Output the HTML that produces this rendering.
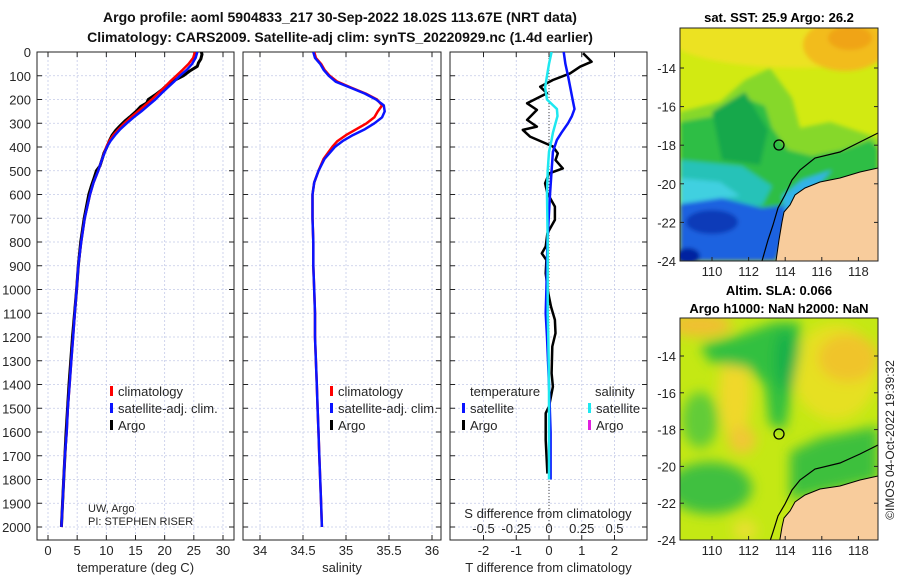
<!DOCTYPE html>
<html><head><meta charset="utf-8"><style>
html,body{margin:0;padding:0;background:#fff;overflow:hidden}
svg{display:block;font-family:"Liberation Sans","DejaVu Sans",sans-serif}
</style></head><body>
<svg id="fig" width="900" height="580" viewBox="0 0 900 580" xmlns="http://www.w3.org/2000/svg">
<defs>
<clipPath id="c1"><rect x="680" y="28" width="198" height="233"/></clipPath>
<clipPath id="c2"><rect x="680" y="318" width="198" height="222"/></clipPath>
<clipPath id="cp1"><rect x="37" y="52" width="197" height="488"/></clipPath>
<clipPath id="cp2"><rect x="243" y="52" width="198" height="488"/></clipPath>
<clipPath id="cp3"><rect x="450" y="52" width="197" height="488"/></clipPath>
<filter id="b1"><feGaussianBlur stdDeviation="2"/></filter>
<filter id="b2"><feGaussianBlur stdDeviation="6"/></filter>
</defs>
<g id="titles" font-weight="bold" font-size="14" fill="#111" text-anchor="middle">
<text x="340" y="22">Argo profile: aoml 5904833_217 30-Sep-2022 18.02S 113.67E (NRT data)</text>
<text x="340" y="42">Climatology: CARS2009. Satellite-adj clim: synTS_20220929.nc (1.4d earlier)</text>
</g>

<!-- SST map -->
<g clip-path="url(#c1)">
<rect x="680" y="28" width="198" height="233" fill="#d2ea12"/>
<g filter="url(#b1)">
<ellipse cx="800" cy="38" rx="130" ry="30" fill="#ece220"/>
<ellipse cx="845" cy="45" rx="42" ry="26" fill="#f2bc1c"/>
<ellipse cx="850" cy="38" rx="22" ry="12" fill="#f0a414"/>
<polygon points="680,112 720,102 745,80 770,68 792,98 800,128 830,122 860,132 878,138 878,205 680,205" fill="#86d82c"/>
<polygon points="680,122 715,116 740,96 765,106 772,128 788,150 812,156 842,150 870,140 878,148 878,205 800,232 680,232" fill="#2ebe44"/>
<polygon points="712,112 745,92 768,130 760,165 722,160" fill="#18a84c"/>
<polygon points="680,160 742,166 772,186 762,206 680,206" fill="#26c2b8"/>
<polygon points="680,178 720,182 740,196 680,204" fill="#40d0e0"/>
<polygon points="680,204 722,198 762,208 792,204 786,232 776,261 680,261" fill="#1a62e0"/>
<ellipse cx="712" cy="222" rx="26" ry="12" fill="#0a3ab8"/>
<ellipse cx="688" cy="256" rx="12" ry="8" fill="#0020a0"/>
<polygon points="782,196 802,180 832,170 804,200 788,226" fill="#30b4e8"/>
</g>
<polygon points="878,168 860,172 840,178 820,182 805,188 795,195 790,205 784,212 782,222 779,240 776,261 878,261" fill="#f8cc9c" stroke="#000" stroke-width="1"/>
<polyline points="878,133 860,142 840,152 815,158 800,170 792,180 785,195 778,208 773,225 768,240 762,261" fill="none" stroke="#000" stroke-width="1.2"/>
<circle cx="779" cy="145" r="5" fill="none" stroke="#000" stroke-width="1.3"/>
</g>
<rect x="680" y="28" width="198" height="233" fill="none" stroke="#222" stroke-width="1"/>
<text x="779" y="22" font-size="13" font-weight="bold" text-anchor="middle">sat. SST: 25.9 Argo: 26.2</text>

<!-- SLA map -->
<g clip-path="url(#c2)">
<rect x="680" y="318" width="198" height="222" fill="#c4e814"/>
<g filter="url(#b2)">
<ellipse cx="835" cy="372" rx="42" ry="48" fill="#e6e020"/>
<ellipse cx="848" cy="358" rx="30" ry="24" fill="#f0c42a"/>
<ellipse cx="700" cy="325" rx="32" ry="12" fill="#f0c030"/>
<ellipse cx="735" cy="395" rx="16" ry="45" fill="#f0d82a"/>
<ellipse cx="742" cy="440" rx="14" ry="14" fill="#f0c834"/>
<polygon points="700,345 740,335 775,322 800,322 800,350 792,390 785,430 770,425 765,385 748,368 710,362" fill="#30c040"/>
<ellipse cx="785" cy="360" rx="10" ry="30" fill="#18b048"/>
<ellipse cx="710" cy="488" rx="42" ry="26" fill="#40c040"/>
<ellipse cx="700" cy="420" rx="18" ry="28" fill="#62cc38"/>
<polygon points="790,452 820,438 878,426 878,480 790,500" fill="#3ec03c"/>
<ellipse cx="745" cy="530" rx="12" ry="10" fill="#e8e030"/>
</g>
<polygon points="878,478 860,482 840,488 820,491 805,497 795,504 790,513 784,520 782,529 779,547 776,565 878,565" transform="translate(0,-2)" fill="#f8cc9c" stroke="#000" stroke-width="1"/>
<polyline points="878,445 860,454 840,463 815,469 800,480 792,490 785,504 778,516 773,532 768,547" fill="none" stroke="#000" stroke-width="1.2"/>
<circle cx="779" cy="434" r="5" fill="none" stroke="#000" stroke-width="1.3"/>
</g>
<rect x="680" y="318" width="198" height="222" fill="none" stroke="#222" stroke-width="1"/>
<text x="779" y="295" font-size="13" font-weight="bold" text-anchor="middle">Altim. SLA: 0.066</text>
<text x="779" y="313" font-size="13" font-weight="bold" text-anchor="middle">Argo h1000: NaN h2000: NaN</text>
<text x="0" y="0" font-size="12" fill="#222" text-anchor="middle" transform="translate(894,440) rotate(-90)">©IMOS 04-Oct-2022 19:39:32</text>

<g id="plots"></g>
</svg>
<script>
// ---- data ----
const depthGrid=[0,25,50,75,100,125,150,175,200,225,250,275,300,325,350,375,400,450,500,550,600,700,800,900,1000,1100,1200,1300,1400,1500,1600,1700,1800,1900,2000];
const tempSat=[25.6,25.3,24.7,23.8,22.6,21.6,20.5,19.4,18.4,17.2,16.0,14.7,13.5,12.4,11.5,10.7,10.1,9.3,8.6,7.8,7.2,6.3,5.7,5.2,4.9,4.6,4.3,4.0,3.7,3.4,3.2,2.9,2.7,2.5,2.3];
const tempClim=[25.2,24.9,24.1,23.1,22.0,20.9,19.9,18.8,17.8,16.6,15.4,14.2,13.1,12.1,11.2,10.5,10.0,9.3,8.6,7.8,7.2,6.3,5.7,5.2,4.9,4.6,4.3,4.0,3.7,3.4,3.2,2.9,2.7,2.5,2.3];
const salSat=[34.62,34.64,34.70,34.74,34.80,34.88,35.05,35.22,35.35,35.44,35.45,35.42,35.33,35.22,35.08,34.96,34.87,34.75,34.68,34.63,34.61,34.61,34.62,34.62,34.63,34.64,34.64,34.65,34.66,34.67,34.68,34.69,34.70,34.71,34.72];
const salClim=[34.63,34.65,34.71,34.75,34.81,34.90,35.06,35.23,35.36,35.42,35.37,35.33,35.24,35.12,35.00,34.90,34.84,34.74,34.68,34.63,34.61,34.61,34.62,34.62,34.63,34.64,34.64,34.65,34.66,34.67,34.68,34.69,34.70,34.71,34.72];
const argoDepth=[0,10,30,45,60,80,100,120,140,160,180,200,215,230,250,270,290,310,330,350,375,400,425,450,480,500,530,560,600,650,700,800,900,1000,1200,1400,1600,1800,2000];
const argoTemp=[26.3,26.4,26.2,25.8,25.6,24.3,23.2,21.6,20.4,19.5,18.4,17.2,16.9,15.9,15.1,14.2,13.2,12.4,11.6,11.0,10.5,10.1,9.6,9.3,8.9,8.3,7.9,7.5,7.0,6.6,6.2,5.6,5.2,4.9,4.2,3.6,3.1,2.7,2.3];
const diffDepth=[0,50,100,150,200,240,270,300,340,370,420,500,600,800,1000,1100,1200,1400,1600,1800];
const tDiffSat=[0.45,0.5,0.58,0.65,0.72,0.78,0.7,0.58,0.38,0.24,0.12,0.08,0.03,-0.05,-0.08,-0.1,-0.06,0,0.05,0.05];
const sDiffSat=[0.02,0.0,-0.015,-0.03,-0.015,0.06,0.065,0.05,0.03,0.02,0.0,-0.01,-0.015,-0.01,-0.01,-0.01,-0.005,0,0,0];
const argoDiffDepth=[5,41,62,90,118,146,174,216,244,286,314,328,356,398,427,455,490,511,553,595,651,707,763,819,848,876,932,1016,1072,1128,1184,1240,1353,1409,1493,1521,1634,1775];
const tDiffArgo=[1.04,1.3,0.95,0.64,0.12,-0.27,-0.06,-0.67,-0.37,-0.67,-0.37,-0.8,-0.58,0.12,0.27,0.2,0.42,0.0,-0.12,-0.05,0.18,0.18,-0.05,-0.1,-0.22,-0.08,-0.1,-0.02,0.06,0.18,0.2,0.1,0.08,0.12,0.0,-0.1,-0.1,-0.05];
const depthTicks=[0,100,200,300,400,500,600,700,800,900,1000,1100,1200,1300,1400,1500,1600,1700,1800,1900,2000];
const tempTicks=[0,5,10,15,20,25,30];
const salTicks=[34,34.5,35,35.5,36];
const tdTicks=[-2,-1,0,1,2];
const sdTicks=[-0.5,-0.25,0,0.25,0.5];
const sdTickLabels=['-0.5','-0.25','0','0.25','0.5'];
const lonTicks=[110,112,114,116,118];
const latTicks=[-14,-16,-18,-20,-22,-24];

// ---- axes ----
const Y=d=>52+d*0.2375;
const XT=t=>48+t*5.833;
const XS=s=>260+(s-34)*86;
const XTD=v=>549+v*32.75;
const XSD=v=>549+v*131;
const NS='http://www.w3.org/2000/svg';
const root=document.getElementById('plots');
function mk(tag,attrs,parent){const e=document.createElementNS(NS,tag);for(const k in attrs)e.setAttribute(k,attrs[k]);(parent||root).appendChild(e);return e;}
function txt(x,y,s,size,anchor,parent){const t=mk('text',{x:x,y:y,'font-size':size,'text-anchor':anchor,fill:'#262626'},parent);t.textContent=s;return t;}

const panels=[
 {x0:37,x1:234,name:'temperature-panel',ticks:tempTicks,X:XT,labels:tempTicks.map(String),title:'temperature (deg C)'},
 {x0:243,x1:441,name:'salinity-panel',ticks:salTicks,X:XS,labels:salTicks.map(String),title:'salinity'},
 {x0:450,x1:647,name:'difference-panel',ticks:tdTicks,X:XTD,labels:tdTicks.map(String),title:'T difference from climatology'}
];
panels.forEach(p=>{
 const g=mk('g',{});
 
 
 depthTicks.forEach(d=>{mk('line',{x1:p.x0,x2:p.x1,y1:Y(d),y2:Y(d),stroke:'#c4cae8','stroke-width':0.8,'stroke-dasharray':'2,2'},g);
  mk('line',{x1:p.x0,x2:p.x0+5,y1:Y(d),y2:Y(d),stroke:'#222'},g);
  mk('line',{x1:p.x1-5,x2:p.x1,y1:Y(d),y2:Y(d),stroke:'#222'},g);});
 p.ticks.forEach((t,i)=>{const x=p.X(t);
  mk('line',{x1:x,x2:x,y1:52,y2:540,stroke:'#c4cae8','stroke-width':0.8,'stroke-dasharray':'2,2'},g);
  mk('line',{x1:x,x2:x,y1:540,y2:535,stroke:'#222'},g);
  mk('line',{x1:x,x2:x,y1:52,y2:57,stroke:'#222'},g);
  const tl=txt(x,555,p.labels[i],13,'middle',g);
  
  });
 mk('rect',{x:p.x0,y:52,width:p.x1-p.x0,height:488,fill:'none',stroke:'#222','stroke-width':1},g);
 const at=txt((p.x0+p.x1)/2,572,p.title,13,'middle',g);
 
 
});
depthTicks.forEach(d=>{const t=txt(31,Y(d)+5,String(d),13,'end');
 
 });

function line(xs,ds,X,color,w,parent,name){
 const pts=xs.map((v,i)=>X(v).toFixed(1)+','+Y(ds[i]).toFixed(1)).join(' ');
 const pl=mk('polyline',{points:pts,fill:'none',stroke:color,'stroke-width':w,'stroke-linejoin':'round'},parent);
 
 
 return pl;}
const g1=mk('g',{'clip-path':'url(#cp1)'});
line(argoTemp,argoDepth,XT,'#000',3,g1,'argo-temperature-line');
line(tempClim,depthGrid,XT,'#f00',2.5,g1,'climatology-temperature-line');
line(tempSat,depthGrid,XT,'#0a14ff',2.5,g1,'satellite-temperature-line');
const g2=mk('g',{'clip-path':'url(#cp2)'});
line(salClim,depthGrid,XS,'#f00',2.5,g2,'climatology-salinity-line');
line(salSat,depthGrid,XS,'#0a14ff',2.5,g2,'satellite-salinity-line');
const g3=mk('g',{'clip-path':'url(#cp3)'});
mk('line',{x1:549,x2:549,y1:52,y2:527,stroke:'#444','stroke-width':1,'stroke-dasharray':'1,2'},g3);
line(tDiffArgo,argoDiffDepth,XTD,'#000',2.5,g3,'argo-temperature-diff-line');
line(tDiffSat,diffDepth,XTD,'#0a14ff',2.5,g3,'satellite-temperature-diff-line');
line(sDiffSat,diffDepth,XSD,'#1ee8f0',2.5,g3,'satellite-salinity-diff-line');
const sl=txt(548,518,'S difference from climatology',13,'middle');


sdTicks.forEach((v,i)=>{const t=txt(XSD(v),533,sdTickLabels[i],13,'middle');
 
 });

function leg(x,y,color,label){const g=mk('g',{});
 
 
 mk('rect',{x:x,y:y-10,width:3,height:10,fill:color},g);
 txt(x+8,y,label,13,'start',g);}
leg(110,396,'#f00','climatology');leg(110,413,'#0a14ff','satellite-adj. clim.');leg(110,430,'#000','Argo');
leg(330,396,'#f00','climatology');leg(330,413,'#0a14ff','satellite-adj. clim.');leg(330,430,'#000','Argo');
const lt=txt(470,396,'temperature',13,'start');
const ls=txt(595,396,'salinity',13,'start');
leg(462,413,'#0a14ff','satellite');leg(462,430,'#000','Argo');
leg(588,413,'#1ee8f0','satellite');leg(588,430,'#e020e0','Argo');
const c1=txt(88,512,'UW, Argo',11,'start');
const c2=txt(88,525,'PI: STEPHEN RISER',11,'start');

const fig=document.getElementById('fig');
lonTicks.forEach(l=>{const x=712+(l-110)*18.3;
 [[261,276],[540,555]].forEach(([yb,yt])=>{mk('line',{x1:x,x2:x,y1:yb,y2:yb-4,stroke:'#222'},fig);
  const t=txt(x,yt,String(l),13,'middle',fig);});});
latTicks.forEach(l=>{
 const y1=261-(l+24)*19.3, y2=540-(l+24)*18.4;
 [y1,y2].forEach(y=>{mk('line',{x1:680,x2:684,y1:y,y2:y,stroke:'#222'},fig);mk('line',{x1:874,x2:878,y1:y,y2:y,stroke:'#222'},fig);
  const t=txt(676,y+5,String(l),13,'end',fig);});});
</script>
</body></html>
